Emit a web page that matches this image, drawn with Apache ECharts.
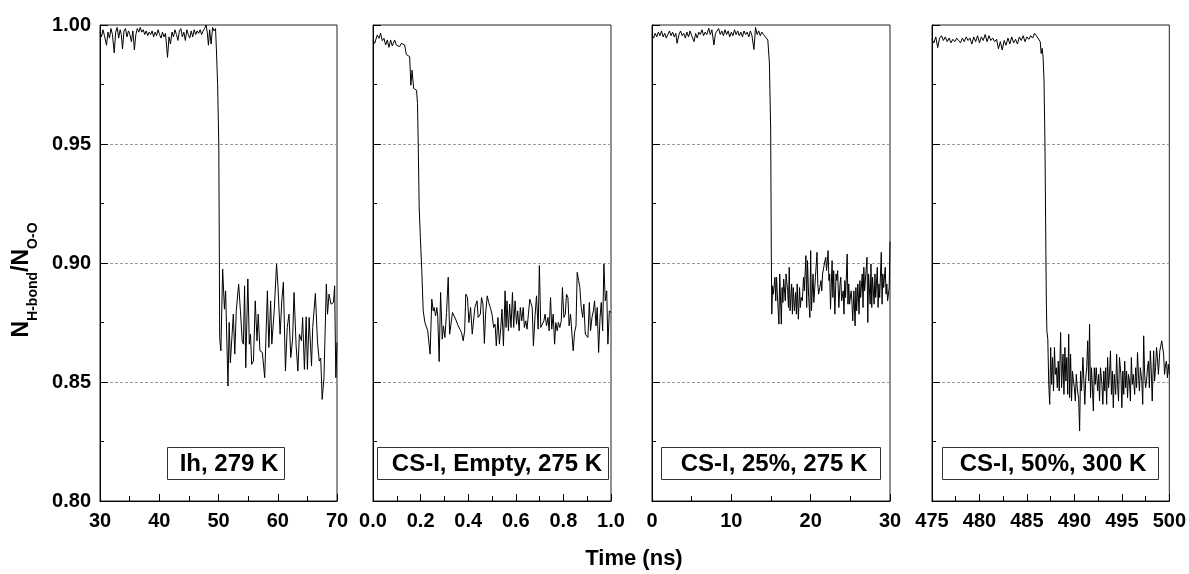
<!DOCTYPE html>
<html>
<head>
<meta charset="utf-8">
<script src="https://cdn.jsdelivr.net/npm/echarts@6/dist/echarts.min.js"></script>
<style>html,body{margin:0;padding:0;background:#fff;}#c{width:1189px;height:574px;}</style>
</head>
<body>
<div id="c"></div>
<script>
// ---- data: [time (ns), N_H-bond / N_O-O] ----
const ih279 = [[30.0,0.9970],[30.25,0.9950],[30.5,0.9980],[30.75,0.9955],[31.1,0.9915],[31.35,0.9970],[31.6,0.9945],[31.85,0.9985],[32.1,0.9960],[32.4,0.9883],[32.65,0.9970],[32.9,0.9990],[33.15,0.9945],[33.4,0.9980],[33.6,0.9960],[33.8,0.9900],[34.05,0.9975],[34.3,0.9985],[34.55,0.9950],[34.8,0.9975],[35.05,0.9960],[35.3,0.9930],[35.55,0.9975],[35.8,0.9895],[36.05,0.9960],[36.3,0.9985],[36.55,0.9970],[36.8,0.9990],[37.05,0.9970],[37.3,0.9980],[37.55,0.9960],[37.8,0.9975],[38.05,0.9955],[38.3,0.9970],[38.55,0.9960],[38.8,0.9975],[39.05,0.9950],[39.3,0.9970],[39.55,0.9955],[39.8,0.9980],[40.05,0.9960],[40.3,0.9945],[40.55,0.9970],[40.8,0.9950],[41.05,0.9965],[41.4,0.9864],[41.65,0.9950],[41.9,0.9920],[42.15,0.9970],[42.4,0.9950],[42.65,0.9980],[42.9,0.9960],[43.15,0.9935],[43.4,0.9975],[43.65,0.9985],[43.9,0.9950],[44.15,0.9970],[44.4,0.9935],[44.65,0.9980],[44.9,0.9960],[45.15,0.9945],[45.4,0.9975],[45.65,0.9950],[45.9,0.9980],[46.15,0.9960],[46.4,0.9975],[46.65,0.9965],[46.9,0.9980],[47.15,0.9960],[47.4,0.9975],[47.65,0.9985],[47.9,1.0000],[48.1,0.9970],[48.3,0.9915],[48.5,0.9980],[48.75,0.9920],[49.0,0.9990],[49.25,0.9975],[49.5,0.9985],[49.65,0.9895],[49.85,0.9750],[50.05,0.9500],[50.15,0.9000],[50.2,0.8687],[50.4,0.8631],[50.7,0.8975],[51.0,0.8806],[51.2,0.8883],[51.6,0.8483],[51.8,0.8750],[52.0,0.8581],[52.2,0.8588],[52.5,0.8785],[52.75,0.8617],[53.0,0.8799],[53.4,0.8912],[53.7,0.8799],[54.0,0.8673],[54.2,0.8659],[54.4,0.8904],[54.6,0.8560],[54.95,0.8933],[55.2,0.8659],[55.4,0.8701],[55.6,0.8574],[55.9,0.8588],[56.2,0.8841],[56.5,0.8673],[56.7,0.8785],[57.0,0.8631],[57.4,0.8624],[57.8,0.8518],[58.25,0.8883],[58.5,0.8645],[58.8,0.8841],[59.0,0.8659],[59.4,0.8799],[59.8,0.8996],[60.05,0.8897],[60.4,0.8701],[60.7,0.8848],[60.95,0.8919],[61.3,0.8546],[61.6,0.8729],[61.9,0.8785],[62.2,0.8603],[62.5,0.8680],[62.75,0.8876],[63.1,0.8652],[63.4,0.8546],[63.65,0.8701],[64.0,0.8673],[64.2,0.8771],[64.5,0.8553],[64.8,0.8774],[65.0,0.8553],[65.3,0.8771],[65.7,0.8567],[65.9,0.8729],[66.35,0.8872],[66.7,0.8673],[67.0,0.8588],[67.25,0.8600],[67.5,0.8427],[67.8,0.8518],[68.2,0.8912],[68.4,0.8785],[68.65,0.8869],[69.0,0.8827],[69.4,0.8834],[69.6,0.8904],[69.8,0.8518],[70.0,0.8666]];

const csEmpty275 = [[0.000,0.9937],[0.007,0.9923],[0.018,0.9958],[0.025,0.9944],[0.032,0.9965],[0.039,0.9934],[0.046,0.9944],[0.053,0.9916],[0.060,0.9937],[0.067,0.9906],[0.074,0.9937],[0.081,0.9912],[0.091,0.9937],[0.098,0.9916],[0.105,0.9920],[0.112,0.9909],[0.119,0.9923],[0.126,0.9923],[0.133,0.9916],[0.140,0.9876],[0.147,0.9869],[0.154,0.9867],[0.159,0.9747],[0.164,0.9810],[0.171,0.9733],[0.177,0.9737],[0.183,0.9726],[0.187,0.9670],[0.190,0.9500],[0.194,0.9235],[0.199,0.9108],[0.205,0.8968],[0.211,0.8799],[0.218,0.8750],[0.225,0.8743],[0.230,0.8715],[0.235,0.8722],[0.240,0.8617],[0.247,0.8848],[0.253,0.8799],[0.257,0.8813],[0.263,0.8778],[0.268,0.8813],[0.272,0.8778],[0.278,0.8586],[0.284,0.8876],[0.291,0.8680],[0.296,0.8736],[0.302,0.8687],[0.309,0.8792],[0.316,0.8940],[0.322,0.8701],[0.327,0.8708],[0.334,0.8792],[0.341,0.8785],[0.347,0.8764],[0.353,0.8764],[0.358,0.8736],[0.365,0.8722],[0.372,0.8708],[0.379,0.8673],[0.385,0.8715],[0.390,0.8869],[0.397,0.8855],[0.403,0.8750],[0.410,0.8813],[0.417,0.8701],[0.423,0.8694],[0.428,0.8813],[0.437,0.8841],[0.442,0.8771],[0.451,0.8785],[0.456,0.8855],[0.462,0.8827],[0.468,0.8662],[0.473,0.8785],[0.480,0.8862],[0.486,0.8834],[0.493,0.8813],[0.500,0.8785],[0.507,0.8729],[0.513,0.8743],[0.518,0.8652],[0.525,0.8771],[0.531,0.8659],[0.537,0.8729],[0.542,0.8806],[0.548,0.8652],[0.555,0.8883],[0.559,0.8729],[0.563,0.8841],[0.569,0.8715],[0.574,0.8827],[0.580,0.8729],[0.586,0.8876],[0.591,0.8729],[0.597,0.8841],[0.603,0.8743],[0.608,0.8799],[0.614,0.8715],[0.619,0.8813],[0.625,0.8757],[0.631,0.8813],[0.636,0.8729],[0.642,0.8757],[0.647,0.8722],[0.653,0.8785],[0.659,0.8848],[0.663,0.8834],[0.669,0.8813],[0.674,0.8652],[0.681,0.8778],[0.687,0.8862],[0.694,0.8722],[0.699,0.8989],[0.705,0.8729],[0.712,0.8729],[0.718,0.8757],[0.723,0.8785],[0.729,0.8736],[0.735,0.8771],[0.740,0.8715],[0.746,0.8855],[0.751,0.8722],[0.757,0.8785],[0.763,0.8659],[0.768,0.8750],[0.774,0.8715],[0.779,0.8750],[0.785,0.8729],[0.791,0.8757],[0.796,0.8897],[0.802,0.8771],[0.808,0.8785],[0.813,0.8869],[0.819,0.8855],[0.824,0.8736],[0.830,0.8785],[0.836,0.8785],[0.841,0.8631],[0.847,0.8708],[0.853,0.8736],[0.858,0.8961],[0.864,0.8926],[0.869,0.8897],[0.875,0.8813],[0.881,0.8771],[0.886,0.8827],[0.892,0.8701],[0.897,0.8694],[0.903,0.8687],[0.909,0.8834],[0.914,0.8715],[0.920,0.8771],[0.926,0.8799],[0.931,0.8841],[0.937,0.8736],[0.942,0.8813],[0.948,0.8624],[0.954,0.8771],[0.959,0.8834],[0.965,0.8715],[0.970,0.8996],[0.976,0.8841],[0.982,0.8883],[0.987,0.8659],[0.993,0.8799],[1.000,0.8792]];

const cs25_275 = [[0.0,0.9960],[0.2,0.9945],[0.4,0.9965],[0.6,0.9950],[0.8,0.9970],[1.0,0.9955],[1.2,0.9975],[1.4,0.9950],[1.6,0.9965],[1.8,0.9945],[2.0,0.9960],[2.2,0.9975],[2.4,0.9955],[2.6,0.9970],[2.8,0.9950],[3.0,0.9965],[3.16,0.9923],[3.4,0.9960],[3.6,0.9975],[3.8,0.9955],[4.0,0.9965],[4.2,0.9945],[4.4,0.9970],[4.6,0.9950],[4.8,0.9975],[5.0,0.9955],[5.3,0.9930],[5.5,0.9965],[5.7,0.9945],[5.9,0.9970],[6.1,0.9960],[6.3,0.9980],[6.5,0.9955],[6.7,0.9970],[6.9,0.9960],[7.16,0.9986],[7.35,0.9960],[7.55,0.9980],[7.8,0.9916],[8.0,0.9965],[8.2,0.9975],[8.4,0.9985],[8.6,0.9960],[8.8,0.9975],[9.0,0.9955],[9.2,0.9980],[9.4,0.9960],[9.6,0.9975],[9.8,0.9950],[10.0,0.9970],[10.2,0.9955],[10.4,0.9980],[10.6,0.9960],[10.8,0.9975],[11.0,0.9955],[11.2,0.9970],[11.4,0.9950],[11.6,0.9975],[11.8,0.9960],[12.0,0.9970],[12.2,0.9950],[12.4,0.9975],[12.6,0.9955],[12.85,0.9897],[13.05,0.9990],[13.25,0.9960],[13.45,0.9975],[13.65,0.9955],[13.85,0.9970],[14.05,0.9960],[14.3,0.9965],[14.6,0.9937],[14.8,0.9840],[14.96,0.9560],[15.04,0.9030],[15.1,0.8785],[15.2,0.8904],[15.3,0.8869],[15.5,0.8940],[15.6,0.8841],[15.7,0.8940],[15.8,0.8869],[16.0,0.8743],[16.1,0.8954],[16.3,0.8743],[16.4,0.8897],[16.5,0.8834],[16.6,0.8933],[16.8,0.8841],[16.9,0.8954],[17.1,0.8883],[17.2,0.8813],[17.3,0.8982],[17.4,0.8799],[17.6,0.8912],[17.7,0.8785],[17.8,0.8897],[17.95,0.8799],[18.1,0.8876],[18.2,0.8785],[18.3,0.8912],[18.45,0.8764],[18.6,0.8897],[18.7,0.8813],[18.8,0.8855],[18.95,0.8841],[19.1,0.8940],[19.2,0.8883],[19.4,0.9031],[19.5,0.8813],[19.6,0.9010],[19.75,0.8855],[19.9,0.8771],[20.0,0.9052],[20.1,0.8799],[20.3,0.8954],[20.4,0.8834],[20.5,0.8827],[20.6,0.8940],[20.8,0.9045],[20.9,0.8912],[21.0,0.8869],[21.15,0.8897],[21.3,0.8926],[21.4,0.8883],[21.5,0.8954],[21.65,0.8982],[21.8,0.9010],[21.9,0.9024],[22.0,0.8968],[22.2,0.9052],[22.3,0.8926],[22.4,0.8954],[22.5,0.8806],[22.7,0.9010],[22.8,0.8855],[22.9,0.8968],[23.05,0.8785],[23.2,0.8954],[23.3,0.8926],[23.4,0.8968],[23.55,0.8813],[23.7,0.8912],[23.8,0.8940],[23.9,0.8841],[24.1,0.8883],[24.2,0.8785],[24.3,0.8926],[24.4,0.8855],[24.6,0.9038],[24.7,0.8827],[24.8,0.8912],[24.9,0.8827],[25.1,0.8883],[25.2,0.8841],[25.3,0.8757],[25.45,0.8883],[25.6,0.8736],[25.7,0.8897],[25.8,0.8799],[25.95,0.8912],[26.1,0.8785],[26.2,0.8926],[26.3,0.8855],[26.5,0.8954],[26.6,0.8813],[26.7,0.8982],[26.8,0.8883],[27.0,0.8975],[27.1,0.9024],[27.2,0.8750],[27.3,0.8954],[27.5,0.8827],[27.6,0.8996],[27.7,0.8813],[27.8,0.8940],[28.0,0.8827],[28.1,0.8954],[28.2,0.8855],[28.4,0.8982],[28.5,0.8813],[28.6,0.8912],[28.7,0.8855],[28.9,0.9045],[29.0,0.8827],[29.1,0.8954],[29.2,0.8897],[29.4,0.8982],[29.5,0.8869],[29.6,0.8912],[29.7,0.8841],[29.9,0.8897],[30.0,0.9090]];

const cs50_300 = [[475.0,0.9940],[475.2,0.9925],[475.4,0.9950],[475.6,0.9905],[475.8,0.9945],[476.0,0.9955],[476.2,0.9935],[476.4,0.9950],[476.6,0.9930],[476.8,0.9945],[477.0,0.9925],[477.2,0.9940],[477.4,0.9930],[477.6,0.9945],[477.8,0.9935],[478.0,0.9925],[478.2,0.9945],[478.4,0.9930],[478.6,0.9950],[478.8,0.9935],[479.0,0.9945],[479.2,0.9920],[479.4,0.9950],[479.6,0.9930],[479.8,0.9955],[480.0,0.9925],[480.2,0.9950],[480.4,0.9935],[480.6,0.9960],[480.8,0.9930],[481.0,0.9955],[481.2,0.9935],[481.4,0.9945],[481.6,0.9930],[481.8,0.9940],[482.0,0.9900],[482.2,0.9930],[482.4,0.9895],[482.6,0.9935],[482.8,0.9915],[483.0,0.9945],[483.2,0.9920],[483.4,0.9950],[483.6,0.9925],[483.8,0.9940],[484.0,0.9920],[484.2,0.9950],[484.4,0.9935],[484.6,0.9955],[484.8,0.9930],[485.0,0.9950],[485.2,0.9940],[485.4,0.9955],[485.6,0.9945],[485.8,0.9965],[486.0,0.9955],[486.2,0.9950],[486.4,0.9930],[486.5,0.9880],[486.6,0.9902],[486.7,0.9867],[486.8,0.9768],[486.9,0.9500],[487.0,0.9032],[487.05,0.8827],[487.1,0.8715],[487.2,0.8680],[487.3,0.8490],[487.4,0.8406],[487.5,0.8645],[487.6,0.8490],[487.7,0.8603],[487.8,0.8462],[487.9,0.8645],[488.0,0.8532],[488.1,0.8560],[488.2,0.8476],[488.3,0.8588],[488.4,0.8462],[488.55,0.8708],[488.65,0.8476],[488.8,0.8617],[488.9,0.8448],[489.0,0.8645],[489.1,0.8504],[489.2,0.8603],[489.3,0.8448],[489.4,0.8701],[489.5,0.8434],[489.6,0.8617],[489.7,0.8420],[489.8,0.8546],[489.9,0.8504],[490.0,0.8476],[490.1,0.8420],[490.2,0.8532],[490.3,0.8476],[490.45,0.8427],[490.55,0.8294],[490.65,0.8546],[490.75,0.8462],[490.9,0.8603],[491.0,0.8504],[491.1,0.8406],[491.2,0.8518],[491.3,0.8560],[491.4,0.8673],[491.5,0.8504],[491.6,0.8743],[491.7,0.8434],[491.8,0.8560],[491.9,0.8476],[492.0,0.8378],[492.1,0.8560],[492.2,0.8490],[492.3,0.8560],[492.45,0.8462],[492.55,0.8532],[492.65,0.8420],[492.75,0.8560],[492.9,0.8490],[493.0,0.8406],[493.1,0.8546],[493.2,0.8462],[493.3,0.8560],[493.4,0.8406],[493.5,0.8603],[493.6,0.8476],[493.7,0.8532],[493.8,0.8631],[493.9,0.8448],[494.0,0.8546],[494.1,0.8392],[494.2,0.8532],[494.35,0.8448],[494.45,0.8617],[494.55,0.8490],[494.65,0.8420],[494.75,0.8603],[494.9,0.8532],[495.0,0.8392],[495.1,0.8546],[495.2,0.8448],[495.3,0.8588],[495.4,0.8476],[495.5,0.8546],[495.6,0.8434],[495.7,0.8532],[495.8,0.8504],[495.9,0.8420],[496.0,0.8603],[496.1,0.8490],[496.2,0.8532],[496.35,0.8448],[496.45,0.8560],[496.55,0.8476],[496.65,0.8624],[496.75,0.8532],[496.85,0.8462],[496.95,0.8560],[497.1,0.8504],[497.2,0.8406],[497.3,0.8694],[497.4,0.8532],[497.5,0.8476],[497.6,0.8504],[497.7,0.8560],[497.8,0.8588],[497.9,0.8476],[498.0,0.8631],[498.1,0.8546],[498.2,0.8420],[498.35,0.8631],[498.45,0.8504],[498.55,0.8560],[498.65,0.8645],[498.75,0.8603],[498.85,0.8532],[499.0,0.8631],[499.1,0.8652],[499.2,0.8673],[499.3,0.8680],[499.4,0.8617],[499.5,0.8532],[499.6,0.8574],[499.7,0.8588],[499.8,0.8518],[499.9,0.8574],[500.0,0.8532]];

const panelLabels = ['Ih, 279 K', 'CS-I, Empty, 275 K', 'CS-I, 25%, 275 K', 'CS-I, 50%, 300 K'];
const xMins = [30, 0, 0, 475];
const xMaxs = [70, 1, 30, 500];
const xSteps = [10, 0.2, 10, 5];
const xDecimals = [0, 1, 0, 0];
const yMin = 0.80, yMax = 1.00, yStep = 0.05;
const xTitle = 'Time (ns)';

// ---- layout ----
const FONT = 'Liberation Sans, Arial, sans-serif';
const gridLeft = [100, 373, 652, 932];
const gridWidth = [237, 238, 238, 238];
const GRID_TOP = 25, GRID_H = 476;
const boxes = [[167, 117, 229], [377, 231, 497], [661, 219, 774], [942, 216, 1053]]; // left, width, text centre
const allSeries = [ih279, csEmpty275, cs25_275, cs50_300];

const grids = [], xAxes = [], yAxes = [], series = [], graphic = [];
for (let i = 0; i < 4; i++) {
  grids.push({left: gridLeft[i], width: gridWidth[i], top: GRID_TOP, height: GRID_H,
    show: true, borderColor: '#222', borderWidth: 1, backgroundColor: 'transparent'});
  xAxes.push({
    type: 'value', gridIndex: i, min: xMins[i], max: xMaxs[i], interval: xSteps[i],
    axisLine: {show: true, onZero: false, lineStyle: {color: '#000', width: 1}},
    axisTick: {show: true, inside: true, length: 7, lineStyle: {color: '#000'}},
    minorTick: {show: true, splitNumber: 2, length: 5, lineStyle: {color: '#000'}},
    splitLine: {show: false},
    axisLabel: {show: true, color: '#000', fontSize: 20, fontWeight: 'bold', fontFamily: FONT, margin: 10,
      showMinLabel: true, showMaxLabel: true,
      formatter: (v) => Number(v).toFixed(xDecimals[i])}
  });
  yAxes.push({
    type: 'value', gridIndex: i, min: yMin, max: yMax, interval: yStep,
    axisLine: {show: true, onZero: false, lineStyle: {color: '#000', width: 1}},
    axisTick: {show: true, inside: true, length: 8, lineStyle: {color: '#000'}},
    minorTick: {show: true, splitNumber: 2, length: 4, lineStyle: {color: '#000'}},
    splitLine: {show: true, lineStyle: {color: ['rgba(0,0,0,0)', '#9a9a9a', '#9a9a9a', '#9a9a9a', 'rgba(0,0,0,0)'], type: [3, 2], width: 1}},
    axisLabel: {show: i === 0, color: '#000', fontSize: 20, fontWeight: 'bold', fontFamily: FONT, margin: 9,
      formatter: (v) => Number(v).toFixed(2)}
  });
  series.push({
    type: 'line', xAxisIndex: i, yAxisIndex: i, data: allSeries[i],
    showSymbol: false, symbol: 'none', lineStyle: {color: '#000', width: 1}, z: 5
  });
  const b = boxes[i];
  graphic.push({type: 'rect', shape: {x: b[0] + 0.5, y: 447.5, width: b[1], height: 32},
    style: {fill: '#fff', stroke: '#333', lineWidth: 1}, z: 100});
  graphic.push({type: 'text', x: b[2], y: 464, z: 101,
    style: {text: panelLabels[i], fill: '#000', font: 'bold 24px ' + FONT, align: 'center', verticalAlign: 'middle'}});
}
graphic.push({type: 'text', x: 634, y: 559, z: 101,
  style: {text: xTitle, fill: '#000', font: 'bold 22px ' + FONT, align: 'center', verticalAlign: 'middle'}});
graphic.push({type: 'text', x: 25, y: 280, rotation: Math.PI / 2, z: 101,
  style: {text: '{n|N}{s|H-bond}{n|/N}{s|O-O}', align: 'center', verticalAlign: 'middle',
    rich: {
      n: {fontSize: 23, fontWeight: 'bold', fontFamily: FONT, fill: '#000', lineHeight: 30, verticalAlign: 'top'},
      s: {fontSize: 14, fontWeight: 'bold', fontFamily: FONT, fill: '#000', lineHeight: 14, verticalAlign: 'bottom'}
    }}});

const chart = echarts.init(document.getElementById('c'), null, {renderer: 'canvas'});
chart.setOption({
  animation: false,
  backgroundColor: '#fff',
  grid: grids, xAxis: xAxes, yAxis: yAxes, series: series, graphic: graphic
});
</script>
</body>
</html>
